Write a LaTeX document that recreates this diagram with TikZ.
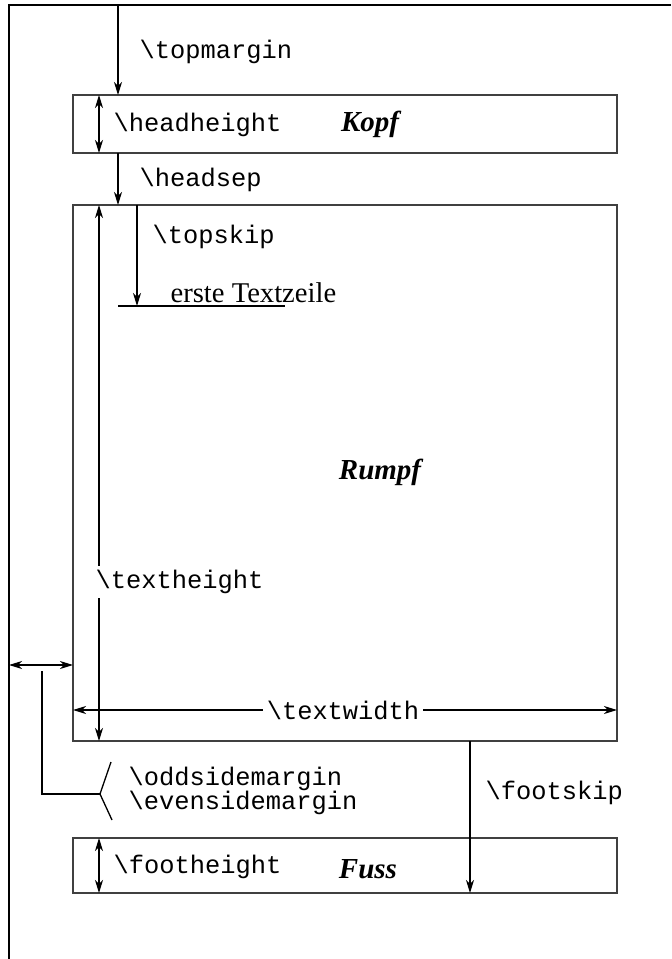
\documentclass[tikz,border=0pt]{standalone}
\usepackage{fontspec}
\setmainfont{Liberation Serif}
\setmonofont{Liberation Mono}
\usetikzlibrary{arrows.meta}

\begin{document}
\begin{tikzpicture}[x=0.5pt,y=-0.5pt,
  line width=0.65pt,
  >={Stealth[length=6.5pt,width=4pt,inset=2pt]},
  frame/.style={draw=black!75,line width=0.9pt},
  macro/.style={font=\fontsize{12.7}{15}\selectfont\ttfamily,inner sep=0pt,anchor=west},
  part/.style={font=\fontsize{14.5}{17}\selectfont\bfseries\itshape,inner sep=0pt},
  gap/.style={fill=white,inner sep=2pt}]
\useasboundingbox (0,0) rectangle (671,959);

% page edges
\coordinate (pTL) at (9,5);
\coordinate (pTR) at (671,5);
\coordinate (pBL) at (9,959);
\draw (pTR) -- (pTL) -- (pBL);

% head, body and foot boxes
\coordinate (hTL) at (73,95);  \coordinate (hBR) at (617,153);
\coordinate (bTL) at (73,205); \coordinate (bBR) at (617,741);
\coordinate (fTL) at (73,838); \coordinate (fBR) at (617,893);
\draw[frame] (hTL) rectangle (hBR);
\draw[frame] (bTL) rectangle (bBR);
\draw[frame] (fTL) rectangle (fBR);

\node[part] (kopf)  at (370,124) {Kopf};
\node[part] (rumpf) at (380,472) {Rumpf};
\node[part] (fuss)  at (368,869) {Fuss};

% topmargin
\coordinate (tmA) at (118,5);
\coordinate (tmB) at (118,95);
\draw[->] (tmA) -- (tmB);
\node[macro] (topmargin) at (139,52) {\textbackslash topmargin};

% headheight
\coordinate (hhA) at (99,95);
\coordinate (hhB) at (99,153);
\draw[<->] (hhA) -- (hhB);
\node[macro] (headheight) at (113,125) {\textbackslash headheight};

% headsep
\coordinate (hsA) at (118,153);
\coordinate (hsB) at (118,205);
\draw[->] (hsA) -- (hsB);
\node[macro] (headsep) at (139,180) {\textbackslash headsep};

% topskip and first line
\coordinate (tsA) at (137,205);
\coordinate (tsB) at (137,306);
\draw[->] (tsA) -- (tsB);
\node[macro] (topskip) at (152,237) {\textbackslash topskip};
\coordinate (blA) at (118,306);
\coordinate (blB) at (285,306);
\draw (blA) -- (blB);
\node[inner sep=0pt,anchor=base west,font=\fontsize{14.3}{16}\selectfont] (erste) at (170,302) {erste Textzeile};

% textheight
\coordinate (thA) at (99,205);
\coordinate (thB) at (99,741);
\draw[<->] (thA) -- (thB);
\node[macro,gap,inner xsep=0pt] (textheight) at (95,582) {\textbackslash textheight};

% textwidth
\coordinate (twA) at (73,710);
\coordinate (twB) at (617,710);
\draw[<->] (twA) -- (twB);
\node[macro,gap,anchor=center] (textwidth) at (343,710) {\textbackslash textwidth};

% oddsidemargin / evensidemargin
\coordinate (omA) at (9,665);
\coordinate (omB) at (73,665);
\draw[<->] (omA) -- (omB);
\coordinate (brA) at (42,671);
\coordinate (brC) at (42,794);
\coordinate (brD) at (100,794);
\coordinate (brU) at (111,762);
\coordinate (brL) at (112,820);
\draw (brA) -- (brC) -- (brD);
\draw (brU) -- (brD) -- (brL);
\node[macro] (odd)  at (128,779) {\textbackslash oddsidemargin};
\node[macro] (even) at (128,803) {\textbackslash evensidemargin};

% footskip
\coordinate (fsA) at (470,741);
\coordinate (fsB) at (470,893);
\draw[->] (fsA) -- (fsB);
\node[macro] (footskip) at (485,793) {\textbackslash footskip};

% footheight
\coordinate (fhA) at (99,838);
\coordinate (fhB) at (99,893);
\draw[<->] (fhA) -- (fhB);
\node[macro] (footheight) at (113,867) {\textbackslash footheight};
\end{tikzpicture}
\end{document}
